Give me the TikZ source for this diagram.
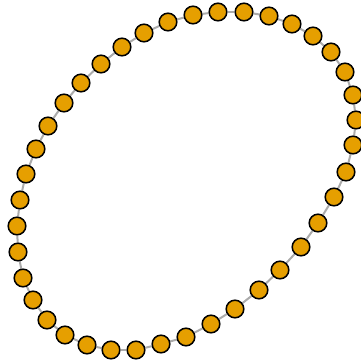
\documentclass[tikz,border=0pt]{standalone}
\usetikzlibrary{backgrounds}
\definecolor{nodeorange}{HTML}{E69F00}
\definecolor{edgegray}{HTML}{ABABAB}
\tikzset{
  vtx/.style={circle, draw=black, fill=nodeorange, line width=1.5pt, minimum size=17.6pt, inner sep=0pt},
  edg/.style={draw=edgegray, line width=2pt}
}
\begin{document}
\begin{tikzpicture}[x=1pt,y=-1pt]
\useasboundingbox (0,0) rectangle (360,364);
\foreach \x/\y [count=\i] in {193/15,218/12,244/12,269/16,292/24,313/36,331/52,345/72,353/95,356/120,353/145,346/172,334/197,318/223,301/247,280/270,259/290,235/309,211/324,186/337,161/344,136/350,111/350,87/345,65/335,47/320,33/300,23/278,18/252,17/226,20/200,26/174,36/149,48/126,64/103,81/83,101/64,122/47,144/33,168/22}
  \node[vtx] (n\i) at (\x,\y) {};
\begin{pgfonlayer}{background}
\foreach \i [evaluate=\i as \j using {int(mod(\i,40)+1)}] in {1,...,40}
  \draw[edg] (n\i) -- (n\j);
\end{pgfonlayer}
\end{tikzpicture}
\end{document}
